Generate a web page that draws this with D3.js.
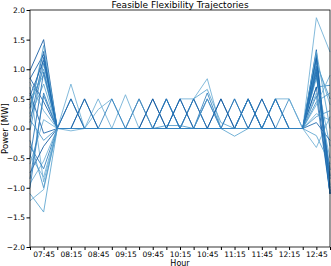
<!DOCTYPE html>
<html>
<head>
<meta charset="utf-8">
<script src="https://cdn.jsdelivr.net/npm/d3@7"></script>
<style>
  body { margin: 0; background: #fff; }
  text { font-family: "DejaVu Sans", sans-serif; fill: #000; }
</style>
</head>
<body>
<svg id="chart" width="331" height="266"></svg>
<script>
// 15-minute steps, 07:30 .. 13:00
const times = ["07:30","07:45","08:00","08:15","08:30","08:45","09:00","09:15","09:30","09:45",
  "10:00","10:15","10:30","10:45","11:00","11:15","11:30","11:45","12:00","12:15","12:30","12:45","13:00"];

const tickLabels = ["07:45","08:15","08:45","09:15","09:45","10:15","10:45","11:15","11:45","12:15","12:45"];

const yTicks = [-2, -1.5, -1, -0.5, 0, 0.5, 1, 1.5, 2];

// one row per trajectory, one value per time step [MW]
const trajectories = [
  [0.98, 1.50, 0, 0.5,0,0,0,0,0.5,0,0,0,0.5,0,0,0,0.5,0,0,0, 0, 1.20, -1.10],
  [0.84, 1.25, 0, 0,0.5,0,0,0,0,0.5,0,0,0,0.5,0,0,0,0.5,0,0, 0, 1.33, -1.05],
  [-1.10, -1.41, 0, 0,0,0,0,0,0,0,0,0,0,0,0,0,0,0,0,0, 0, 0.95, -0.95],
  [-1.22, -1.03, 0, 0,0,0,0,0,0,0,0,0,0,0,0,0,0,0,0,0, 0, 0.25, 0.14],
  [0.34, 1.30, 0, 0,0,0,0,0,0,0,0.5,0,0,0,0.5,0,0,0,0.5,0, 0, 1.05, -0.80],
  [-0.03, 1.10, 0, 0,0,0,0,0,0,0,0.5,0,0,0,0,0.5,0,0,0,0.5, 0, 0.70, 0.73],
  [0.70, -0.90, 0, 0.75,0,0,0,0.57,0,0,0,0,0,0,0,0,0,0,0,0, 0, 1.87, 1.29],
  [-0.93, -0.55, 0, 0,0,0.32,0.5,0,0,0,0,0.5,0.5,0.84,0,0,0,0,0,0, 0, 1.15, 0.40],
  [0.20, 0.75, 0, 0,0,0,0,0,0,0,0,0,0.5,0.66,0.1,0,0,0,0,0, 0, 0.85, -0.30],
  [-0.30, -0.68, 0, 0,0,0,0,0,0,0,0,0,0,0.6,0,0,0,0,0,0, 0, 0.55, -1.10],
  [0.50, 0.90, 0, 0,0,0,0,0,0,0,0,0,0,0,0,-0.13,0,0,0,0, 0, -0.12, -0.60],
  [-0.60, 0.15, 0, -0.04,0,0,0,0,0,0,0,0,0,0,0,0,0,0,0,0, 0, -0.32, 0.20],
  [0.10, 1.20, 0, 0,0,0,0,0,0,0,0,0,0.5,0,0,0.5,0,0,0,0, 0, 1.25, -1.00],
  [-0.45, -0.82, 0, 0,0,0,0,0,0,0,0,0,0,0,0,0,0,0,0.5,0.5, 0, 0.40, 0.90],
  [0.85, 0.45, 0, 0,0,0,0,0,0,0,0,0,0,0,0,0,0,0,0,0, 0, 0.10, -0.20],
  [-0.75, -0.30, 0, 0,0,0,0,0,0,0.5,0,0,0,0,0.5,0,0,0,0,0, 0, 0.70, -1.10],
  [0.40, 1.00, 0, 0,0,0,0,0,0,0,0.05,0.05,0,0,0,0,0,0,0,0, 0, 1.10, 0.50],
  [-1.00, 0.60, 0, 0,0,0,0,0,0,0,0,0,0,0,0,0,0,0,0,0, 0, 0.95, -0.70],
  [0.60, -0.08, 0, 0,0,0,0,0,0,0,0,0.5,0,0,0,0,0,0.5,0,0, 0, 1.00, -1.10],
  [0.25, 1.40, 0, 0,0,0,0,0,0,0,0,0,0,0,0,0,0,0,0,0, 0, 1.30, 0.00],
  [-0.20, -1.00, 0, 0,0,0,0,0,0,0,0,0,0,0,0,0,0.5,0,0.5,0, 0, 0.20, 0.30],
  [0.78, 0.30, 0, 0,0,0.5,0,0,0,0,0,0,0,0,0,0,0,0,0,0, 0, 0.60, -0.50],
  [0.55, 1.15, 0, 0,0.5,0,0,0,0,0,0,0.5,0,0,0,0,0.5,0,0,0, 0, 1.18, -1.05],
  [-0.50, 0.95, 0, 0.5,0,0,0,0,0,0,0.5,0,0,0,0,0,0,0,0.5,0, 0, 0.90, -0.85],
  [0.15, -0.20, 0, 0,0,0,0,0,0.5,0,0,0,0,0.5,0,0,0,0,0,0, 0, 0.45, 0.60],
  [-0.85, 0.55, 0, 0,0,0,0.5,0,0,0,0,0,0,0,0,0,0.5,0,0,0, 0, 1.05, -1.10]
];

// shade of each trajectory on the Blues scale
const shades = [0.85, 0.8, 0.55, 0.5, 0.8, 0.65, 0.5, 0.5, 0.55, 0.7, 0.55,
  0.5, 0.75, 0.5, 0.8, 0.85, 0.6, 0.7, 0.8, 0.55, 0.6, 0.5, 0.8, 0.75, 0.6, 0.7];

const width = 331, height = 266;
const margin = {top: 10, right: 1, bottom: 19, left: 30};

const parse = d3.timeParse("%H:%M");
const fmt = d3.timeFormat("%H:%M");

const svg = d3.select("#chart");

const x = d3.scaleTime()
    .domain([parse(times[0]), parse(times[times.length - 1])])
    .range([margin.left, width - margin.right]);

const y = d3.scaleLinear()
    .domain([-2, 2])
    .range([height - margin.bottom, margin.top]);

const line = d3.line()
    .x((d, i) => x(parse(times[i])))
    .y(d => y(d));

svg.append("g")
    .attr("fill", "none")
    .attr("stroke-width", 1)
    .attr("stroke-linejoin", "round")
  .selectAll("path")
  .data(trajectories)
  .join("path")
    .attr("stroke", (d, i) => d3.interpolateBlues(shades[i]))
    .attr("stroke-opacity", 0.85)
    .attr("d", line);

// x axis: tick every 15 min, label every other one
const xAxis = d3.axisBottom(x)
    .tickValues(times.map(parse))
    .tickSizeOuter(0)
    .tickSize(3)
    .tickFormat(d => tickLabels.includes(fmt(d)) ? fmt(d) : "");

svg.append("g")
    .attr("transform", `translate(0,${height - margin.bottom})`)
    .call(xAxis)
    .call(g => g.select(".domain").remove())
    .call(g => g.selectAll("text").attr("font-size", 7.5).attr("y", 4.2));

const yAxis = d3.axisLeft(y)
    .tickValues(yTicks)
    .tickSize(3.5)
    .tickFormat(d3.format(".1f"));

svg.append("g")
    .attr("transform", `translate(${margin.left},0)`)
    .call(yAxis)
    .call(g => g.select(".domain").remove())
    .call(g => g.selectAll("text").attr("font-size", 7.5).attr("x", -5));

// frame
svg.append("rect")
    .attr("x", margin.left)
    .attr("y", margin.top)
    .attr("width", width - margin.left - margin.right)
    .attr("height", height - margin.top - margin.bottom)
    .attr("fill", "none")
    .attr("stroke", "#000")
    .attr("stroke-width", 0.8);

svg.append("text")
    .attr("x", (margin.left + width - margin.right) / 2)
    .attr("y", 7.5)
    .attr("text-anchor", "middle")
    .attr("font-size", 9)
    .text("Feasible Flexibility Trajectories");

svg.append("text")
    .attr("x", (margin.left + width - margin.right) / 2)
    .attr("y", 265.5)
    .attr("text-anchor", "middle")
    .attr("font-size", 8)
    .text("Hour");

svg.append("text")
    .attr("transform", `translate(7.5,${y(0)}) rotate(-90)`)
    .attr("text-anchor", "middle")
    .attr("font-size", 8.5)
    .text("Power [MW]");
</script>
</body>
</html>
